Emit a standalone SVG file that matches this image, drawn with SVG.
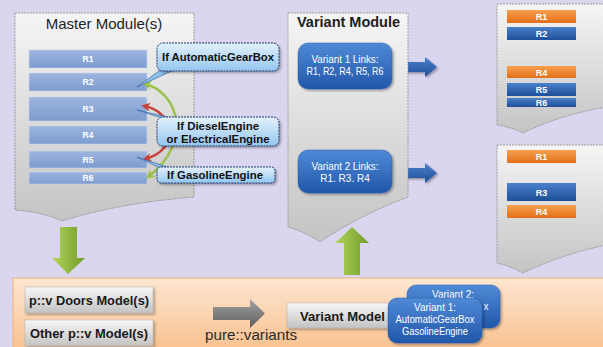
<svg xmlns="http://www.w3.org/2000/svg" width="603" height="347" viewBox="0 0 603 347">
<defs>
<linearGradient id="gDoc" x1="0" y1="0" x2="0" y2="1"><stop offset="0" stop-color="#f5f5f5"/><stop offset="1" stop-color="#c4c4c4"/></linearGradient>
<linearGradient id="gBar" x1="0" y1="0" x2="0" y2="1"><stop offset="0" stop-color="#9db6df"/><stop offset="1" stop-color="#7d9bcf"/></linearGradient>
<linearGradient id="gOr" x1="0" y1="0" x2="0" y2="1"><stop offset="0" stop-color="#f8a04e"/><stop offset="1" stop-color="#e26f18"/></linearGradient>
<linearGradient id="gBl" x1="0" y1="0" x2="0" y2="1"><stop offset="0" stop-color="#4a80cc"/><stop offset="1" stop-color="#1f4f98"/></linearGradient>
<linearGradient id="gVar" x1="0" y1="0" x2="0" y2="1"><stop offset="0" stop-color="#4f8ad6"/><stop offset="1" stop-color="#2157aa"/></linearGradient>
<linearGradient id="gCall" x1="0" y1="0" x2="0" y2="1"><stop offset="0" stop-color="#e4f1fc"/><stop offset="1" stop-color="#94c6ef"/></linearGradient>
<linearGradient id="gGreen" x1="0" y1="0" x2="1" y2="0"><stop offset="0" stop-color="#b2d65a"/><stop offset="1" stop-color="#6f9a2a"/></linearGradient>
<linearGradient id="gGray" x1="0" y1="0" x2="0" y2="1"><stop offset="0" stop-color="#a3a3a3"/><stop offset="1" stop-color="#5c5c5c"/></linearGradient>
<linearGradient id="gBtn" x1="0" y1="0" x2="0" y2="1"><stop offset="0" stop-color="#f7f7f7"/><stop offset="1" stop-color="#c3c3c3"/></linearGradient>
<linearGradient id="gPanel" x1="0" y1="0" x2="0" y2="1"><stop offset="0" stop-color="#fde6d0"/><stop offset="1" stop-color="#f9bd88"/></linearGradient>
<filter id="sh" x="-10%" y="-10%" width="130%" height="140%"><feDropShadow dx="1.5" dy="1.5" stdDeviation="1.2" flood-color="#000" flood-opacity="0.35"/></filter>
<marker id="mG" viewBox="0 0 10 10" refX="7" refY="5" markerWidth="9" markerHeight="9" markerUnits="userSpaceOnUse" orient="auto-start-reverse"><path d="M10,5 L0,0 L3,5 L0,10 Z" fill="#9bc14a"/></marker>
<marker id="mR" viewBox="0 0 10 10" refX="7" refY="5" markerWidth="9" markerHeight="9" markerUnits="userSpaceOnUse" orient="auto-start-reverse"><path d="M10,5 L0,0 L3,5 L0,10 Z" fill="#c8423a"/></marker>
<style>
.doc{fill:url(#gDoc);stroke:#8c8c8c;stroke-width:0.8;stroke-dasharray:2 1}
.bar{fill:url(#gBar);stroke:#c9d6ec;stroke-width:0.6}
.bl{fill:#fff;font-family:"Liberation Sans",Arial,sans-serif;font-weight:bold;font-size:8.5px;text-anchor:middle}
.bl9{fill:#fff;font-family:"Liberation Sans",Arial,sans-serif;font-weight:bold;font-size:9px;text-anchor:middle}
.or{fill:url(#gOr)}
.blu{fill:url(#gBl)}
.title{fill:#1e1e1e;font-family:"Liberation Sans",Arial,sans-serif;font-size:15px}
.call{fill:url(#gCall);stroke:#1f3a6b;stroke-width:1;stroke-dasharray:2 1}
.tail{fill:#8ec1ec;stroke:#2b5b9c;stroke-width:0.6}
.ct{fill:#111;font-family:"Liberation Sans",Arial,sans-serif;font-weight:bold;font-size:11.5px;text-anchor:middle}
.vbox{fill:url(#gVar);stroke:#2a5fae;stroke-width:0.5}
.vt{fill:#fff;font-family:"Liberation Sans",Arial,sans-serif;font-size:10px;text-anchor:middle}
.btn{fill:url(#gBtn);stroke:#b0b0b0;stroke-width:0.5}
.bt{fill:#1a1a1a;font-family:"Liberation Sans",Arial,sans-serif;font-weight:bold;font-size:13px}
</style>
</defs>
<rect width="603" height="347" fill="#dbd6f0"/>

<g id="pv-panel">
<rect x="13" y="278" width="595" height="80" fill="url(#gPanel)" stroke="#f3b47a" stroke-width="1"/>
<text x="205" y="340" fill="#2a2a2a" font-family="'Liberation Sans',Arial,sans-serif" font-size="15" textLength="92" lengthAdjust="spacingAndGlyphs">pure::variants</text>
</g>

<g id="master-module">
<path class="doc" d="M15,13 H194 V197 Q120,203 62,221 Q42,212 15,210 Z"/>
<text class="title" x="104" y="29" text-anchor="middle">Master Module(s)</text>
<rect class="bar" x="29" y="50" width="118" height="18"/><text class="bl" x="88" y="62">R1</text>
<rect class="bar" x="29" y="73" width="118" height="18"/><text class="bl" x="88" y="85">R2</text>
<rect class="bar" x="29" y="97" width="118" height="24"/><text class="bl" x="88" y="112">R3</text>
<rect class="bar" x="29" y="126" width="118" height="18"/><text class="bl" x="88" y="138">R4</text>
<rect class="bar" x="29" y="151" width="118" height="17"/><text class="bl" x="88" y="162.5">R5</text>
<rect class="bar" x="29" y="172" width="118" height="12"/><text class="bl" x="88" y="181">R6</text>
</g>

<g id="connectors">
<path d="M145,84 C178,92 194,142 148,177" fill="none" stroke="#9bc14a" stroke-width="2.5" marker-start="url(#mG)" marker-end="url(#mG)"/>
<path d="M144,106 C176,112 180,150 145,159" fill="none" stroke="#c8423a" stroke-width="2.5" marker-start="url(#mR)" marker-end="url(#mR)"/>
<polygon points="213,307 250,307 250,299 265,313.5 250,328 250,320 213,320" fill="url(#gGray)"/>
<polygon points="60,227 77,227 77,258 85,258 68,274 52,258 60,258" fill="url(#gGreen)"/>
<polygon points="352,227 369,243 360,243 360,275 344,275 344,243 335,243" fill="url(#gGreen)"/>
<polygon points="397,62 425,62 425,57 437,67 425,77 425,72 397,72" fill="url(#gBl)" filter="url(#sh)"/>
<polygon points="397,168 425,168 425,163 437,173 425,183 425,178 397,178" fill="url(#gBl)" filter="url(#sh)"/>
</g>

<g id="callout-gearbox">
<polygon class="tail" points="137,87 163,68 174,70"/>
<rect class="call" x="157" y="43" width="122" height="28" rx="6" filter="url(#sh)"/>
<text class="ct" x="218" y="61" textLength="112" lengthAdjust="spacingAndGlyphs">If AutomaticGearBox</text>
</g>
<g id="callout-diesel">
<polygon class="tail" points="137,110 162,118 172,118"/>
<rect class="call" x="157" y="117" width="122" height="29" rx="6" filter="url(#sh)"/>
<text class="ct" x="218" y="130" textLength="82" lengthAdjust="spacingAndGlyphs">If DieselEngine</text>
<text class="ct" x="218" y="143" textLength="103" lengthAdjust="spacingAndGlyphs">or ElectricalEngine</text>
</g>
<g id="callout-gasoline">
<polygon class="tail" points="137,157 160,168 170,168"/>
<rect class="call" x="157" y="167" width="118" height="16" rx="4" filter="url(#sh)"/>
<text class="ct" x="215" y="179" textLength="96" lengthAdjust="spacingAndGlyphs">If GasolineEngine</text>
</g>

<g id="variant-module">
<path class="doc" d="M288,13 H408 V197 Q360,215 320,242 Q305,232 288,227 Z"/>
<text class="title" x="297" y="27" font-weight="bold" font-size="14.5" textLength="103" lengthAdjust="spacingAndGlyphs">Variant Module</text>
<rect class="vbox" x="298" y="43" width="94" height="46" rx="10" filter="url(#sh)"/>
<text class="vt" x="345" y="63" textLength="67" lengthAdjust="spacingAndGlyphs">Variant 1 Links:</text>
<text class="vt" x="345" y="75" textLength="77" lengthAdjust="spacingAndGlyphs">R1, R2, R4, R5, R6</text>
<rect class="vbox" x="298" y="150" width="94" height="43" rx="10" filter="url(#sh)"/>
<text class="vt" x="345" y="170" textLength="67" lengthAdjust="spacingAndGlyphs">Variant 2 Links:</text>
<text class="vt" x="345" y="182">R1. R3. R4</text>
</g>

<g id="doc-variant1">
<path class="doc" d="M497,4 H606 V107 Q560,115 523,133 Q511,127 497,125 Z"/>
<rect class="or" x="507" y="10" width="69" height="13"/><text class="bl9" x="541.5" y="20">R1</text>
<rect class="blu" x="507" y="27" width="69" height="13"/><text class="bl9" x="541.5" y="37">R2</text>
<rect class="or" x="507" y="66" width="69" height="12"/><text class="bl9" x="541.5" y="75.5">R4</text>
<rect class="blu" x="507" y="83" width="69" height="13"/><text class="bl9" x="541.5" y="93">R5</text>
<rect class="blu" x="507" y="98" width="69" height="9"/><text class="bl9" x="541.5" y="106">R6</text>
</g>

<g id="doc-variant2">
<path class="doc" d="M497,145 H606 V245 Q560,255 523,273 Q510,266 497,263 Z"/>
<rect class="or" x="507" y="150" width="69" height="13"/><text class="bl9" x="541.5" y="160">R1</text>
<rect class="blu" x="507" y="183" width="69" height="18"/><text class="bl9" x="541.5" y="195.5">R3</text>
<rect class="or" x="507" y="205" width="69" height="13"/><text class="bl9" x="541.5" y="215">R4</text>
</g>

<g id="doors-model">
<rect class="btn" x="25" y="287" width="128" height="26" filter="url(#sh)"/>
<text class="bt" x="89" y="305" text-anchor="middle" textLength="120" lengthAdjust="spacingAndGlyphs">p::v Doors Model(s)</text>
</g>
<g id="other-model">
<rect class="btn" x="25" y="320" width="128" height="26" filter="url(#sh)"/>
<text class="bt" x="89" y="338" text-anchor="middle" textLength="118" lengthAdjust="spacingAndGlyphs">Other p::v Model(s)</text>
</g>
<g id="variant-model">
<rect class="btn" x="287" y="303" width="120" height="25" filter="url(#sh)"/>
<text class="bt" x="300" y="321" textLength="85" lengthAdjust="spacingAndGlyphs">Variant Model</text>
</g>
<g id="variant2-box">
<rect class="vbox" x="407" y="285" width="93" height="43" rx="9" filter="url(#sh)"/>
<text class="vt" x="453" y="298">Variant 2:</text>
<text class="vt" x="486" y="310">x</text>
</g>
<g id="variant1-box">
<rect class="vbox" x="388" y="298" width="94" height="45" rx="9" filter="url(#sh)"/>
<text class="vt" x="435" y="311">Variant 1:</text>
<text class="vt" x="435" y="323" textLength="79" lengthAdjust="spacingAndGlyphs">AutomaticGearBox</text>
<text class="vt" x="435" y="335" textLength="66" lengthAdjust="spacingAndGlyphs">GasolineEngine</text>
</g>
</svg>
